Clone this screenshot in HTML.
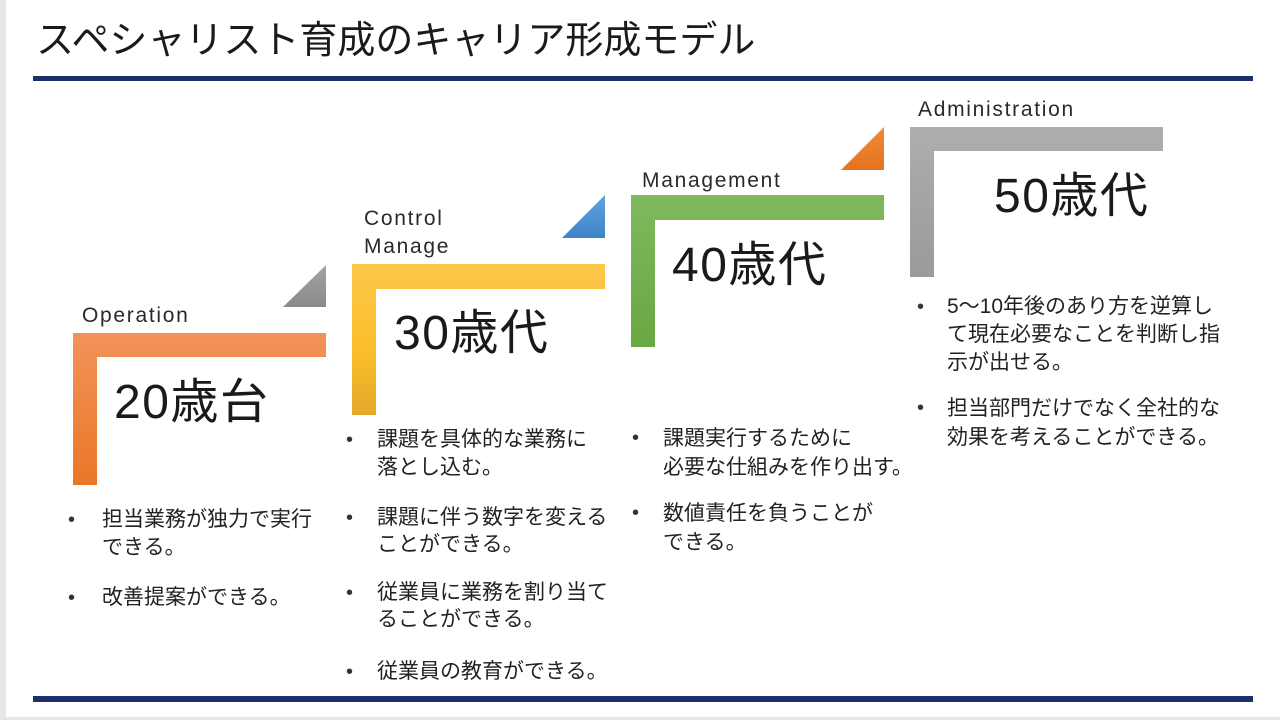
<!DOCTYPE html>
<html>
<head>
<meta charset="utf-8">
<style>
  html,body{margin:0;padding:0;}
  body{width:1280px;height:720px;position:relative;overflow:hidden;background:#fff;
       font-family:"Liberation Sans","Noto Sans CJK JP",sans-serif;color:#222;}
  .abs{position:absolute;white-space:nowrap;}
  .title{left:36px;top:20px;font-size:38px;line-height:42px;color:#1a1a1a;}
  .age{font-size:48px;line-height:52px;letter-spacing:1.5px;color:#1a1a1a;}
  .lab{font-size:21px;line-height:24px;letter-spacing:1.7px;color:#2a2a2a;}
  .bt{font-size:21px;line-height:28px;color:#222;}
  .dot{font-size:20px;line-height:28px;color:#333;}
</style>
</head>
<body>
<svg class="abs" style="left:0;top:0" width="1280" height="720" viewBox="0 0 1280 720">
  <defs>
    <linearGradient id="gO" x1="0" y1="0" x2="0" y2="1">
      <stop offset="0" stop-color="#f2935a"/><stop offset="1" stop-color="#ea7727"/>
    </linearGradient>
    <linearGradient id="gY" x1="0" y1="0" x2="0" y2="1">
      <stop offset="0" stop-color="#fcc84c"/><stop offset="0.6" stop-color="#fbbd2a"/><stop offset="1" stop-color="#e2a929"/>
    </linearGradient>
    <linearGradient id="gG" x1="0" y1="0" x2="0" y2="1">
      <stop offset="0" stop-color="#7fb95d"/><stop offset="1" stop-color="#68a742"/>
    </linearGradient>
    <linearGradient id="gS" x1="0" y1="0" x2="0" y2="1">
      <stop offset="0" stop-color="#aeaeae"/><stop offset="1" stop-color="#9a9a9a"/>
    </linearGradient>
    <linearGradient id="tS" x1="0" y1="0" x2="0" y2="1">
      <stop offset="0" stop-color="#a3a3a3"/><stop offset="1" stop-color="#8a8a8a"/>
    </linearGradient>
    <linearGradient id="tB" x1="0" y1="0" x2="0" y2="1">
      <stop offset="0" stop-color="#5fa2de"/><stop offset="1" stop-color="#3f84c9"/>
    </linearGradient>
    <linearGradient id="tO" x1="0" y1="0" x2="0" y2="1">
      <stop offset="0" stop-color="#f08a3c"/><stop offset="1" stop-color="#e5731f"/>
    </linearGradient>
  </defs>
  <rect x="0" y="0" width="6" height="720" fill="#e6e6e6"/>
  <rect x="0" y="717" width="1280" height="3" fill="#e6e6e6"/>
  <rect x="33" y="76" width="1220" height="5" fill="#1c2f6b"/>
  <rect x="33" y="696" width="1220" height="6" fill="#1c2f6b"/>
  <polygon points="73,333 326,333 326,357 97,357 97,485 73,485" fill="url(#gO)"/>
  <polygon points="352,264 605,264 605,289 376,289 376,415 352,415" fill="url(#gY)"/>
  <polygon points="631,195 884,195 884,220 655,220 655,347 631,347" fill="url(#gG)"/>
  <polygon points="910,127 1163,127 1163,151 934,151 934,277 910,277" fill="url(#gS)"/>
  <polygon points="283,307 326,265 326,307" fill="url(#tS)"/>
  <polygon points="562,238 605,195 605,238" fill="url(#tB)"/>
  <polygon points="841,170 884,127 884,170" fill="url(#tO)"/>
</svg>

<div class="abs title">スペシャリスト育成のキャリア形成モデル</div>

<div class="abs lab" style="left:82px;top:304px;">Operation</div>
<div class="abs lab" style="left:364px;top:207px;">Control</div>
<div class="abs lab" style="left:364px;top:235px;">Manage</div>
<div class="abs lab" style="left:642px;top:169px;">Management</div>
<div class="abs lab" style="left:918px;top:98px;">Administration</div>

<div class="abs age" style="left:114px;top:377px;">20歳台</div>
<div class="abs age" style="left:394px;top:308px;">30歳代</div>
<div class="abs age" style="left:672px;top:240px;">40歳代</div>
<div class="abs age" style="left:994px;top:171px;">50歳代</div>

<!-- column 1 -->
<div class="abs dot" style="left:68px;top:506px;">•</div>
<div class="abs bt" style="left:102px;top:506px;">担当業務が独力で実行<br>できる。</div>
<div class="abs dot" style="left:68px;top:584px;">•</div>
<div class="abs bt" style="left:102px;top:584px;">改善提案ができる。</div>

<!-- column 2 -->
<div class="abs dot" style="left:346px;top:426px;">•</div>
<div class="abs bt" style="left:377px;top:426px;">課題を具体的な業務に<br>落とし込む。</div>
<div class="abs dot" style="left:346px;top:504px;">•</div>
<div class="abs bt" style="left:377px;top:504px;line-height:27px;">課題に伴う数字を変える<br>ことができる。</div>
<div class="abs dot" style="left:346px;top:579px;">•</div>
<div class="abs bt" style="left:377px;top:579px;line-height:27px;">従業員に業務を割り当て<br>ることができる。</div>
<div class="abs dot" style="left:346px;top:658px;">•</div>
<div class="abs bt" style="left:377px;top:658px;">従業員の教育ができる。</div>

<!-- column 3 -->
<div class="abs dot" style="left:632px;top:424px;">•</div>
<div class="abs bt" style="left:663px;top:424px;line-height:29px;">課題実行するために<br>必要な仕組みを作り出す。</div>
<div class="abs dot" style="left:632px;top:499px;">•</div>
<div class="abs bt" style="left:663px;top:499px;line-height:29px;">数値責任を負うことが<br>できる。</div>

<!-- column 4 -->
<div class="abs dot" style="left:917px;top:293px;">•</div>
<div class="abs bt" style="left:947px;top:293px;">5～10年後のあり方を逆算し<br>て現在必要なことを判断し指<br>示が出せる。</div>
<div class="abs dot" style="left:917px;top:394px;">•</div>
<div class="abs bt" style="left:947px;top:394px;line-height:29px;">担当部門だけでなく全社的な<br>効果を考えることができる。</div>
</body>
</html>
